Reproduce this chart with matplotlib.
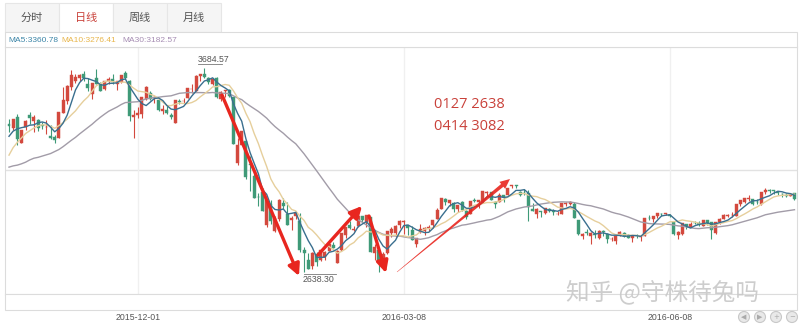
import matplotlib
matplotlib.use('Agg')
import matplotlib.pyplot as plt
from matplotlib.patches import Rectangle, Circle, Polygon
import numpy as np
import pandas as pd

plt.rcParams['font.family'] = ['Noto Sans CJK SC', 'DejaVu Sans']

# =============================================================================
# DATA  (daily candles, 2015-10-19 .. 2016-07-22)
# =============================================================================

# closes of the 29 sessions before the window (only used to seed MA30)
pre_closes = [3232.35, 3205.99, 3166.62, 3160.17, 3080.42, 3170.45, 3243.09,
              3197.89, 3200.23, 3114.80, 3005.17, 3152.26, 3086.06, 3097.92,
              3156.54, 3185.62, 3115.89, 3142.69, 3092.35, 3100.76, 3038.14,
              3052.78, 3143.36, 3183.15, 3287.66, 3293.23, 3262.44, 3338.07,
              3391.35]

opens = [
    # 2015-10
    3398, 3377, 3433, 3300, 3384, 3445, 3412, 3419, 3392, 3380,
    # 2015-11
    3337, 3331, 3325, 3456, 3514, 3588, 3617, 3635, 3655, 3601, 3550, 3632,
    3605, 3576, 3620, 3627, 3602, 3614, 3659, 3616, 3434,
    # 2015-12
    3442, 3450, 3525, 3558, 3529, 3518, 3462, 3469, 3441, 3403, 3515, 3513,
    3529, 3576, 3568, 3642, 3653, 3631, 3603, 3635, 3528, 3566, 3570,
    # 2016-01
    3536, 3196, 3291, 3309, 3194, 3131, 3023, 3050, 2878, 2987, 2847, 2908,
    2993, 2934, 2906, 2924, 2900, 2752, 2698, 2669,
    # 2016-02
    2730, 2701, 2716, 2747, 2778, 2684, 2750, 2829, 2877, 2852, 2874, 2923,
    2895, 2919, 2735, 2751,
    # 2016-03
    2685, 2737, 2836, 2837, 2877, 2893, 2879, 2855, 2780, 2844, 2849, 2862,
    2879, 2912, 2962, 3011, 2990, 2993, 2963, 2995, 2949, 2934, 3009,
    # 2016-04
    2998, 2997, 3046, 3048, 2997, 2999, 3034, 3033, 3079, 3082, 3047, 3043,
    3042, 2962, 2938, 2947, 2942, 2961, 2950, 2935,
    # 2016-05
    2938, 2987, 2986, 2989, 2904, 2824, 2841, 2823, 2831, 2813, 2848, 2833,
    2806, 2795, 2828, 2840, 2827, 2811, 2825, 2818, 2824,
    # 2016-06
    2914, 2908, 2923, 2937, 2936, 2931, 2896, 2827, 2832, 2882, 2870, 2889,
    2890, 2875, 2903, 2896, 2837, 2893, 2912, 2927,
    # 2016-07
    2930, 2925, 2987, 2999, 3012, 3012, 2999, 2989, 3048, 3059, 3060, 3050,
    3040, 3033, 3029, 3041,
]

highs = [
    3422, 3425, 3448, 3369, 3417, 3457, 3441, 3421, 3410, 3416,
    3390, 3342, 3459, 3585, 3596, 3673, 3653, 3656, 3669, 3632, 3607, 3678,
    3615, 3617, 3640, 3654, 3617, 3648, 3668, 3621, 3470,
    3483, 3538, 3591, 3568, 3543, 3518, 3496, 3488, 3456, 3521, 3526, 3530,
    3583, 3600, 3651, 3653, 3684.57, 3640, 3631, 3640, 3567, 3573, 3576,
    3538, 3328, 3362, 3309, 3235, 3166, 3044, 3068, 3011, 3007, 2925, 3014,
    3016, 2996, 2926, 2946, 2939, 2767, 2738, 2739,
    2740, 2751, 2747, 2783, 2793, 2753, 2837, 2867, 2901, 2874, 2933, 2927,
    2929, 2919, 2782, 2751,
    2741, 2850, 2870, 2880, 2906, 2903, 2879, 2874, 2814, 2884, 2867, 2878,
    2906, 2969, 3020, 3016, 3010, 2995, 2983, 3001, 2958, 3000, 3020,
    3010, 3054, 3055, 3050, 3002, 3044, 3035, 3071, 3087, 3086, 3055, 3062,
    3057, 2990, 2967, 2952, 2967, 2966, 2962, 2950,
    2992, 2998, 3003, 2997, 2904, 2836, 2860, 2842, 2855, 2852, 2856, 2837,
    2820, 2827, 2847, 2842, 2833, 2828, 2833, 2824, 2917,
    2929, 2926, 2941, 2943, 2942, 2937, 2896, 2849, 2890, 2887, 2893, 2902,
    2899, 2907, 2906, 2897, 2897, 2915, 2934, 2938,
    2945, 2989, 3007, 3018, 3032, 3015, 3014, 3049, 3071, 3062, 3061, 3056,
    3044, 3041, 3045, 3042,
]

lows = [
    3357, 3366, 3290, 3298, 3368, 3396, 3355, 3362, 3374, 3345,
    3322, 3302, 3325, 3454, 3500, 3572, 3607, 3618, 3616, 3566, 3525, 3601,
    3566, 3573, 3601, 3600, 3573, 3610, 3629, 3412, 3327,
    3426, 3427, 3520, 3520, 3507, 3465, 3451, 3450, 3423, 3400, 3498, 3505,
    3529, 3556, 3568, 3620, 3633, 3601, 3597, 3532, 3515, 3538, 3538,
    3295, 3189, 3288, 3115, 3056, 3016, 2978, 2949, 2867, 2883, 2844, 2901,
    2961, 2880, 2852, 2910, 2741, 2638.30, 2653, 2653,
    2671, 2695, 2699, 2746, 2760, 2682, 2746, 2815, 2860, 2847, 2870, 2888,
    2869, 2740, 2700, 2638.96,
    2683, 2733, 2818, 2816, 2865, 2835, 2830, 2804, 2767, 2839, 2829, 2850,
    2866, 2908, 2961, 2983, 2975, 2948, 2946, 2950, 2910, 2934, 2995,
    2966, 2993, 3029, 3007, 2968, 2999, 2998, 3033, 3068, 3068, 3027, 3034,
    2901, 2950, 2917, 2919, 2937, 2945, 2929, 2930,
    2934, 2976, 2983, 2913, 2828, 2807, 2829, 2781, 2815, 2806, 2824, 2789,
    2798, 2781, 2823, 2817, 2811, 2794, 2811, 2796, 2824,
    2906, 2895, 2917, 2925, 2929, 2920, 2829, 2807, 2826, 2858, 2868, 2882,
    2873, 2872, 2881, 2808, 2835, 2885, 2908, 2919,
    2920, 2924, 2976, 2993, 3005, 2981, 2988, 2984, 3038, 3044, 3040, 3033,
    3022, 3023, 3027, 3009,
]

closes = [
    3386.70, 3425.33, 3320.68, 3368.74, 3412.43, 3429.58, 3434.34, 3375.20,
    3387.32, 3382.56,
    3325.08, 3316.70, 3459.64, 3522.82, 3590.03, 3646.88, 3640.49, 3650.25,
    3632.90, 3580.84, 3606.96, 3604.80, 3568.47, 3617.06, 3630.50, 3610.31,
    3616.11, 3647.93, 3635.55, 3436.30, 3445.40,
    3456.31, 3536.91, 3584.82, 3524.99, 3536.93, 3470.07, 3472.44, 3455.50,
    3434.58, 3520.67, 3510.35, 3516.19, 3580.00, 3578.96, 3642.47, 3651.77,
    3636.09, 3612.49, 3627.91, 3533.78, 3563.74, 3572.88, 3539.18,
    3296.26, 3287.71, 3361.84, 3125.00, 3186.41, 3016.70, 3022.86, 2949.60,
    3007.65, 2900.97, 2913.84, 3007.74, 2976.69, 2880.48, 2916.56, 2938.51,
    2749.79, 2735.56, 2655.66, 2737.60,
    2688.85, 2749.57, 2739.25, 2781.02, 2763.49, 2746.20, 2836.57, 2867.34,
    2862.89, 2860.02, 2927.18, 2903.33, 2928.90, 2741.25, 2767.21, 2687.98,
    2733.17, 2849.68, 2859.76, 2874.15, 2897.34, 2901.39, 2862.56, 2804.73,
    2810.31, 2859.50, 2864.37, 2870.43, 2904.83, 2955.15, 3018.80, 2999.36,
    3009.96, 2960.97, 2979.43, 2957.82, 2919.83, 3000.65, 3003.92,
    3009.53, 3053.07, 3050.59, 3008.42, 2984.96, 3033.96, 3023.65, 3066.64,
    3082.36, 3078.12, 3033.66, 3042.82, 2972.58, 2953.67, 2959.24, 2946.67,
    2964.70, 2953.50, 2945.59, 2938.32,
    2992.64, 2991.27, 2997.84, 2913.25, 2832.59, 2832.11, 2837.04, 2835.86,
    2827.11, 2850.86, 2843.68, 2807.51, 2806.91, 2825.48, 2843.65, 2821.67,
    2815.09, 2822.44, 2821.05, 2822.45, 2916.62,
    2913.51, 2925.23, 2938.68, 2934.10, 2936.04, 2927.16, 2833.07, 2842.19,
    2887.21, 2872.82, 2885.11, 2888.81, 2878.56, 2905.55, 2891.96, 2854.29,
    2895.70, 2912.56, 2931.59, 2929.61,
    2932.48, 2988.60, 3006.39, 3017.29, 3016.85, 2988.09, 2994.92, 3049.38,
    3060.69, 3054.02, 3054.30, 3043.56, 3036.60, 3027.90, 3039.05, 3012.82,
]

tick_index = [31, 95, 159]
tick_labels = ['2015-12-01', '2016-03-08', '2016-06-08']

tabs = ['分时', '日线', '周线', '月线']
ma_legend = ['MA5:3360.78', 'MA10:3276.41', 'MA30:3182.57']
notes = ['0127 2638', '0414 3082']
watermark = '知乎 @守株待兔吗'

# =============================================================================
# STYLE
# =============================================================================

COLORS = {
    'up': '#d3493e',
    'down': '#3f9a78',
    'ma5': '#3a6f8f',
    'ma10': '#e6cf9c',
    'ma30': '#a29ca8',
    'ma5_txt': '#3d86a8',
    'ma10_txt': '#e8b64c',
    'ma30_txt': '#a68db3',
    'arrow': '#e8261f',
    'note': '#c9413a',
    'grid': '#e2e2e2',
    'frame': '#dcdcdc',
    'text': '#555555',
}

W, H = 800, 325
# chart box in pixels
CX0, CX1, CY0, CY1 = 5, 797, 47, 294
# price <-> pixel calibration
PX_HI, PY_HI = 3684.57, 68
PX_LO, PY_LO = 2638.30, 272
px_per_price = (PY_LO - PY_HI) / (PX_HI - PX_LO)
ytop = PX_HI + (PY_HI - CY0) / px_per_price
ybot = PX_HI - (CY1 - PY_HI) / px_per_price
step = 4.156
xleft = -(9 - CX0) / step
xright = (CX1 - 9) / step

fig = plt.figure(figsize=(W / 100, H / 100), dpi=100, facecolor='white')

# ---- main chart ------------------------------------------------------------
ax = fig.add_axes([CX0 / W, 1 - CY1 / H, (CX1 - CX0) / W, (CY1 - CY0) / H])
ax.set_xlim(xleft, xright)
ax.set_ylim(ybot, ytop)

o = np.array(opens, dtype=float)
h = np.array(highs, dtype=float)
l = np.array(lows, dtype=float)
c = np.array(closes, dtype=float)
idx = np.arange(len(c))
up = c >= o
cols = np.where(up, COLORS['up'], COLORS['down'])

# grid
grid_price = PX_HI - (170 - PY_HI) / px_per_price
ax.axhline(grid_price, color=COLORS['grid'], lw=1, zorder=0)
for t in tick_index:
    ax.axvline(t, color='#f0f0f0', lw=1, zorder=0)

ax.vlines(idx, l, h, colors=cols, lw=0.8, zorder=2)
body = np.maximum(np.abs(c - o), 2.5)
ax.bar(idx, body, bottom=np.minimum(o, c), width=0.72, color=cols,
       edgecolor=cols, lw=0.3, zorder=3)

# moving averages
allc = pd.Series(pre_closes + closes)
n_pre = len(pre_closes)
for n, key in [(30, 'ma30'), (10, 'ma10'), (5, 'ma5')]:
    ma = allc.rolling(n).mean().values[n_pre:]
    ax.plot(idx, ma, color=COLORS[key], lw=1.0, zorder=4)

# high / low marks
ih = int(np.argmax(h))
il = int(np.argmin(l))
ax.text(ih - 1.5, h[ih] + 20, f'{h[ih]:.2f}', fontsize=6.3, color='#555555',
        family='Liberation Sans', va='bottom', ha='left')
ax.plot([ih - 1.5, ih + 4.3], [h[ih] + 18, h[ih] + 18], color='#777777', lw=0.6, zorder=5)
ax.plot([il, il + 7.6], [l[il] - 10, l[il] - 10], color='#777777', lw=0.6, zorder=5)
ax.text(il - 0.3, l[il] - 14, f'{l[il]:.2f}', fontsize=6.3, color='#555555',
        family='Liberation Sans', va='top', ha='left')

ax.set_xticks([])
ax.set_yticks([])
for s in ax.spines.values():
    s.set_color(COLORS['frame'])
    s.set_linewidth(0.8)

# ---- overlay in pixel coordinates ------------------------------------------
ov = fig.add_axes([0, 0, 1, 1])
ov.set_xlim(0, W)
ov.set_ylim(H, 0)
ov.axis('off')
ov.patch.set_visible(False)

# tabs
tab_w = 54
for i, name in enumerate(tabs):
    x0 = 5 + i * tab_w
    sel = i == 1
    ov.add_patch(Rectangle((x0, 3), tab_w, 29, facecolor='white' if sel else '#f5f5f5',
                           edgecolor='#e6e6e6', lw=0.8))
    ov.text(x0 + tab_w / 2, 17.5, name, ha='center', va='center', fontsize=8,
            color=COLORS['note'] if sel else '#555555')

# legend strip
ov.add_patch(Rectangle((5, 32), 792, 15, facecolor='white', edgecolor=COLORS['frame'], lw=0.8))
for txt, key, xs in zip(ma_legend, ['ma5_txt', 'ma10_txt', 'ma30_txt'], [8, 61, 122]):
    ov.text(xs, 40, txt, fontsize=6, color=COLORS[key], va='center', ha='left',
            family='Liberation Sans')

# date axis strip
ov.add_patch(Rectangle((5, 294), 792, 16, facecolor='white', edgecolor=COLORS['frame'], lw=0.8))
for t, lab in zip(tick_index, tick_labels):
    xp = 9 + t * step
    ov.text(xp, 317, lab, ha='center', va='center', fontsize=6.3, color=COLORS['text'],
            family='Liberation Sans')

# red notes
for k, txt in enumerate(notes):
    ov.text(434, 104 + k * 23, txt, fontsize=10.5, color=COLORS['note'], va='center',
            ha='left', family='Open Sans')

# arrows (drawn by hand on the picture)
for tail, tip in [((222, 95), (299, 276)), ((318, 255), (362, 206)), ((369, 216), (386, 273))]:
    ov.annotate('', xy=tip, xytext=tail,
                arrowprops=dict(arrowstyle='-|>,head_length=0.7,head_width=0.35',
                                color=COLORS['arrow'], lw=2.4, shrinkA=0, shrinkB=0))
# tapered long arrow
tx, ty = 397, 272
hx, hy = 510, 179
d = np.array([hx - tx, hy - ty], dtype=float)
L = np.hypot(*d)
u = d / L
nrm = np.array([-u[1], u[0]])
neck = np.array([tx, ty]) + u * (L - 10)
poly = [np.array([tx, ty]) + nrm * 0.2, neck + nrm * 1.8, neck + nrm * 4.5, np.array([hx, hy]),
        neck - nrm * 4.5, neck - nrm * 1.8, np.array([tx, ty]) - nrm * 0.2]
ov.add_patch(Polygon(poly, closed=True, facecolor=COLORS['arrow'], edgecolor='none', alpha=0.9))

# watermark
ov.text(663, 292, watermark, fontsize=17, color='#c8c8c8', ha='center', va='center', alpha=0.9)

# navigation buttons
for k, g in enumerate(['◀', '▶', '+', '−']):
    cx = 744 + k * 16
    ov.add_patch(Circle((cx, 317), 5.5, facecolor='#e9e9e9', edgecolor='#c8c8c8', lw=0.8))
    ov.text(cx, 317, g, fontsize=5, color='#aaaaaa', ha='center', va='center',
            family='DejaVu Sans')

fig.savefig('out.png', dpi=100, facecolor='white')
